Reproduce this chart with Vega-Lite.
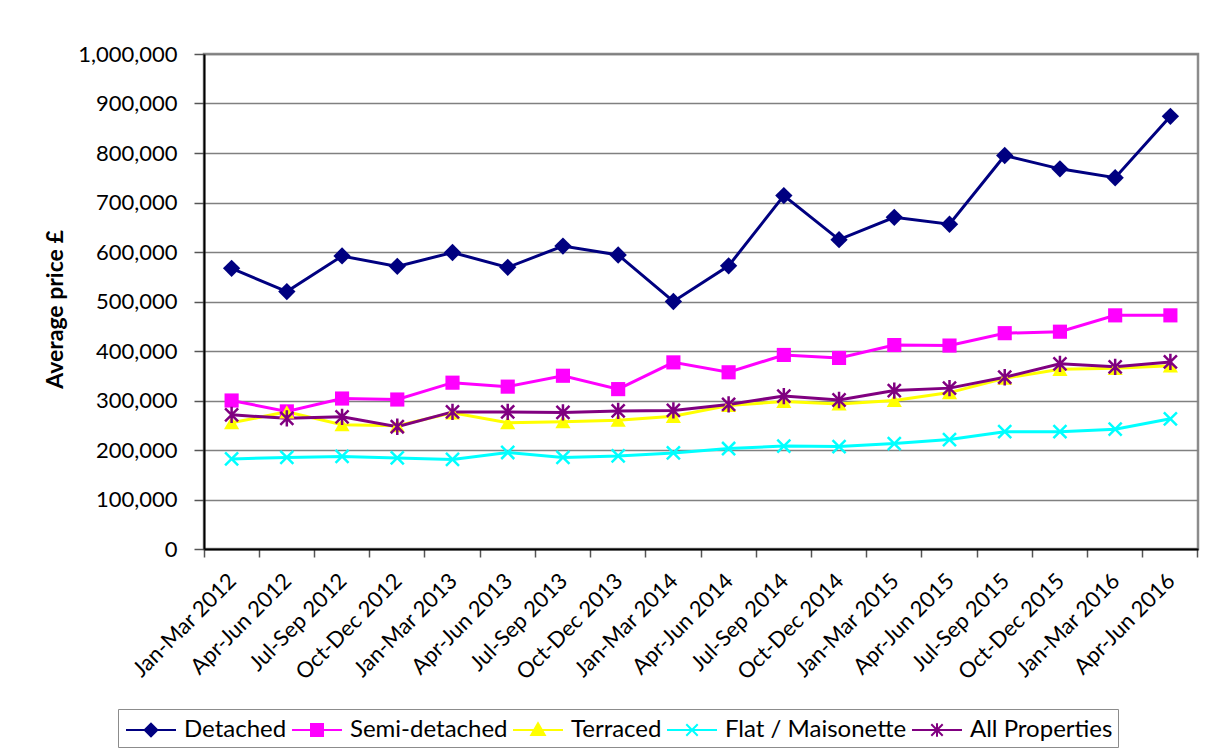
{
  "$schema": "https://vega.github.io/schema/vega-lite/v6.json",
  "width": 994,
  "height": 495,
  "autosize": {"type": "none"},
  "padding": {"left": 204, "top": 54, "right": 12, "bottom": 207},
  "background": "white",
  "config": {
    "font": "Lato",
    "view": {"stroke": "#8c8c8c", "strokeWidth": 2.5},
    "axis": {"labelFont": "Lato", "labelFontSize": 22, "labelColor": "black", "titleFont": "Lato", "titleColor": "black"}
  },
  "datasets": {
    "prices": [
      {"q": "Jan-Mar 2012", "s": "Detached", "v": 567000},
      {"q": "Apr-Jun 2012", "s": "Detached", "v": 520000},
      {"q": "Jul-Sep 2012", "s": "Detached", "v": 592000},
      {"q": "Oct-Dec 2012", "s": "Detached", "v": 571000},
      {"q": "Jan-Mar 2013", "s": "Detached", "v": 599000},
      {"q": "Apr-Jun 2013", "s": "Detached", "v": 569000},
      {"q": "Jul-Sep 2013", "s": "Detached", "v": 612000},
      {"q": "Oct-Dec 2013", "s": "Detached", "v": 594000},
      {"q": "Jan-Mar 2014", "s": "Detached", "v": 500000},
      {"q": "Apr-Jun 2014", "s": "Detached", "v": 572000},
      {"q": "Jul-Sep 2014", "s": "Detached", "v": 714000},
      {"q": "Oct-Dec 2014", "s": "Detached", "v": 625000},
      {"q": "Jan-Mar 2015", "s": "Detached", "v": 670000},
      {"q": "Apr-Jun 2015", "s": "Detached", "v": 656000},
      {"q": "Jul-Sep 2015", "s": "Detached", "v": 795000},
      {"q": "Oct-Dec 2015", "s": "Detached", "v": 768000},
      {"q": "Jan-Mar 2016", "s": "Detached", "v": 750000},
      {"q": "Apr-Jun 2016", "s": "Detached", "v": 874000},
      {"q": "Jan-Mar 2012", "s": "Semi-detached", "v": 300000},
      {"q": "Apr-Jun 2012", "s": "Semi-detached", "v": 278000},
      {"q": "Jul-Sep 2012", "s": "Semi-detached", "v": 304000},
      {"q": "Oct-Dec 2012", "s": "Semi-detached", "v": 302000},
      {"q": "Jan-Mar 2013", "s": "Semi-detached", "v": 336000},
      {"q": "Apr-Jun 2013", "s": "Semi-detached", "v": 328000},
      {"q": "Jul-Sep 2013", "s": "Semi-detached", "v": 350000},
      {"q": "Oct-Dec 2013", "s": "Semi-detached", "v": 323000},
      {"q": "Jan-Mar 2014", "s": "Semi-detached", "v": 377000},
      {"q": "Apr-Jun 2014", "s": "Semi-detached", "v": 357000},
      {"q": "Jul-Sep 2014", "s": "Semi-detached", "v": 392000},
      {"q": "Oct-Dec 2014", "s": "Semi-detached", "v": 386000},
      {"q": "Jan-Mar 2015", "s": "Semi-detached", "v": 412000},
      {"q": "Apr-Jun 2015", "s": "Semi-detached", "v": 411000},
      {"q": "Jul-Sep 2015", "s": "Semi-detached", "v": 436000},
      {"q": "Oct-Dec 2015", "s": "Semi-detached", "v": 439000},
      {"q": "Jan-Mar 2016", "s": "Semi-detached", "v": 472000},
      {"q": "Apr-Jun 2016", "s": "Semi-detached", "v": 472000},
      {"q": "Jan-Mar 2012", "s": "Terraced", "v": 255000},
      {"q": "Apr-Jun 2012", "s": "Terraced", "v": 277000},
      {"q": "Jul-Sep 2012", "s": "Terraced", "v": 251000},
      {"q": "Oct-Dec 2012", "s": "Terraced", "v": 249000},
      {"q": "Jan-Mar 2013", "s": "Terraced", "v": 275000},
      {"q": "Apr-Jun 2013", "s": "Terraced", "v": 255000},
      {"q": "Jul-Sep 2013", "s": "Terraced", "v": 257000},
      {"q": "Oct-Dec 2013", "s": "Terraced", "v": 260000},
      {"q": "Jan-Mar 2014", "s": "Terraced", "v": 268000},
      {"q": "Apr-Jun 2014", "s": "Terraced", "v": 290000},
      {"q": "Jul-Sep 2014", "s": "Terraced", "v": 298000},
      {"q": "Oct-Dec 2014", "s": "Terraced", "v": 293000},
      {"q": "Jan-Mar 2015", "s": "Terraced", "v": 300000},
      {"q": "Apr-Jun 2015", "s": "Terraced", "v": 316000},
      {"q": "Jul-Sep 2015", "s": "Terraced", "v": 345000},
      {"q": "Oct-Dec 2015", "s": "Terraced", "v": 363000},
      {"q": "Jan-Mar 2016", "s": "Terraced", "v": 365000},
      {"q": "Apr-Jun 2016", "s": "Terraced", "v": 370000},
      {"q": "Jan-Mar 2012", "s": "Flat / Maisonette", "v": 182000},
      {"q": "Apr-Jun 2012", "s": "Flat / Maisonette", "v": 185000},
      {"q": "Jul-Sep 2012", "s": "Flat / Maisonette", "v": 187000},
      {"q": "Oct-Dec 2012", "s": "Flat / Maisonette", "v": 184000},
      {"q": "Jan-Mar 2013", "s": "Flat / Maisonette", "v": 181000},
      {"q": "Apr-Jun 2013", "s": "Flat / Maisonette", "v": 195000},
      {"q": "Jul-Sep 2013", "s": "Flat / Maisonette", "v": 185000},
      {"q": "Oct-Dec 2013", "s": "Flat / Maisonette", "v": 188000},
      {"q": "Jan-Mar 2014", "s": "Flat / Maisonette", "v": 194000},
      {"q": "Apr-Jun 2014", "s": "Flat / Maisonette", "v": 203000},
      {"q": "Jul-Sep 2014", "s": "Flat / Maisonette", "v": 208000},
      {"q": "Oct-Dec 2014", "s": "Flat / Maisonette", "v": 207000},
      {"q": "Jan-Mar 2015", "s": "Flat / Maisonette", "v": 213000},
      {"q": "Apr-Jun 2015", "s": "Flat / Maisonette", "v": 221000},
      {"q": "Jul-Sep 2015", "s": "Flat / Maisonette", "v": 237000},
      {"q": "Oct-Dec 2015", "s": "Flat / Maisonette", "v": 237000},
      {"q": "Jan-Mar 2016", "s": "Flat / Maisonette", "v": 242000},
      {"q": "Apr-Jun 2016", "s": "Flat / Maisonette", "v": 263000},
      {"q": "Jan-Mar 2012", "s": "All Properties", "v": 271000},
      {"q": "Apr-Jun 2012", "s": "All Properties", "v": 264000},
      {"q": "Jul-Sep 2012", "s": "All Properties", "v": 267000},
      {"q": "Oct-Dec 2012", "s": "All Properties", "v": 247000},
      {"q": "Jan-Mar 2013", "s": "All Properties", "v": 277000},
      {"q": "Apr-Jun 2013", "s": "All Properties", "v": 277000},
      {"q": "Jul-Sep 2013", "s": "All Properties", "v": 276000},
      {"q": "Oct-Dec 2013", "s": "All Properties", "v": 279000},
      {"q": "Jan-Mar 2014", "s": "All Properties", "v": 280000},
      {"q": "Apr-Jun 2014", "s": "All Properties", "v": 292000},
      {"q": "Jul-Sep 2014", "s": "All Properties", "v": 309000},
      {"q": "Oct-Dec 2014", "s": "All Properties", "v": 301000},
      {"q": "Jan-Mar 2015", "s": "All Properties", "v": 320000},
      {"q": "Apr-Jun 2015", "s": "All Properties", "v": 325000},
      {"q": "Jul-Sep 2015", "s": "All Properties", "v": 347000},
      {"q": "Oct-Dec 2015", "s": "All Properties", "v": 374000},
      {"q": "Jan-Mar 2016", "s": "All Properties", "v": 368000},
      {"q": "Apr-Jun 2016", "s": "All Properties", "v": 378000}
    ]
  },
  "data": {"name": "prices"},
  "encoding": {
    "x": {
      "field": "q", "type": "ordinal", "sort": null,
      "scale": {"type": "band", "paddingInner": 0, "paddingOuter": 0},
      "axis": {
        "title": null, "labelAngle": -45, "labelAlign": "right", "labelBaseline": "middle",
        "bandPosition": 1, "tickExtra": true, "tickSize": 8, "tickColor": "#555555", "tickWidth": 1.5,
        "labelPadding": 20, "labelOffset": 1, "domainColor": "black", "domainWidth": 2, "grid": false
      }
    },
    "y": {
      "field": "v", "type": "quantitative",
      "scale": {"domain": [0, 1000000], "nice": false},
      "axis": {
        "title": "Average price £", "titleFontSize": 23, "titleFontWeight": "bold",
        "titleX": -149, "titleY": 255, "titleAngle": -90, "titleBaseline": "middle", "titleAlign": "center",
        "format": ",d", "values": [0, 100000, 200000, 300000, 400000, 500000, 600000, 700000, 800000, 900000, 1000000],
        "tickSize": 10, "labelPadding": 17, "tickColor": "#555555", "tickWidth": 1.5,
        "domainColor": "black", "domainWidth": 2, "gridColor": "#808080", "gridWidth": 1.5
      }
    }
  },
  "layer": [
    {
      "mark": {"type": "line", "strokeWidth": 3},
      "encoding": {
        "color": {
          "field": "s", "type": "nominal",
          "scale": {"domain": ["Detached", "Semi-detached", "Terraced", "Flat / Maisonette", "All Properties"],
                    "range": ["#000080", "#FF00FF", "#FFFF00", "#00FFFF", "#800080"]},
          "legend": null
        }
      }
    },
    {
      "transform": [{"filter": {"field": "s", "equal": "Detached"}}],
      "mark": {"type": "point", "filled": true, "opacity": 1, "size": 300, "strokeWidth": 0, "shape": "diamond", "color": "#000080"}
    },
    {
      "transform": [{"filter": {"field": "s", "equal": "Semi-detached"}}],
      "mark": {"type": "point", "filled": true, "opacity": 1, "size": 200, "strokeWidth": 0, "shape": "square", "color": "#FF00FF"}
    },
    {
      "transform": [{"filter": {"field": "s", "equal": "Terraced"}}],
      "mark": {"type": "point", "filled": true, "opacity": 1, "size": 230, "strokeWidth": 0, "shape": "triangle-up", "color": "#FFFF00"}
    },
    {
      "transform": [{"filter": {"field": "s", "equal": "Flat / Maisonette"}}],
      "mark": {"type": "point", "filled": false, "opacity": 1, "size": 170, "strokeWidth": 2.5, "shape": "M-1,-1L1,1M-1,1L1,-1", "color": "#00FFFF"}
    },
    {
      "transform": [{"filter": {"field": "s", "equal": "All Properties"}}],
      "mark": {"type": "point", "filled": false, "opacity": 1, "size": 170, "strokeWidth": 2.5, "shape": "M-1,-1L1,1M-1,1L1,-1M0,-1.25L0,1.25", "color": "#800080"}
    },
    {
      "mark": {"type": "point", "opacity": 0, "strokeWidth": 2},
      "encoding": {
        "fill": {
          "field": "s", "type": "nominal",
          "scale": {"domain": ["Detached", "Semi-detached", "Terraced", "Flat / Maisonette", "All Properties"],
                    "range": ["#000080", "#FF00FF", "#FFFF00", "#00FFFF", "#800080"]},
          "legend": {
            "title": null, "orient": "none", "legendX": -86, "legendY": 655,
            "direction": "horizontal", "columns": 5,
            "symbolSize": 900, "symbolStrokeWidth": 2, "symbolOpacity": 1, "symbolOffset": 12,
            "labelFontSize": 24, "labelFont": "Lato", "labelColor": "black", "labelLimit": 400,
            "labelOffset": 17, "columnPadding": 0, "padding": 5,
            "strokeColor": "#8c8c8c", "fillColor": "white"
          }
        },
        "stroke": {
          "field": "s", "type": "nominal",
          "scale": {"domain": ["Detached", "Semi-detached", "Terraced", "Flat / Maisonette", "All Properties"],
                    "range": ["#000080", "#FF00FF", "#FFFF00", "#00FFFF", "#800080"]},
          "legend": {
            "title": null, "orient": "none", "legendX": -86, "legendY": 655,
            "direction": "horizontal", "columns": 5,
            "symbolSize": 900, "symbolStrokeWidth": 2, "symbolOpacity": 1, "symbolOffset": 12,
            "labelFontSize": 24, "labelFont": "Lato", "labelColor": "black", "labelLimit": 400,
            "labelOffset": 17, "columnPadding": 0, "padding": 5,
            "strokeColor": "#8c8c8c", "fillColor": "white"
          }
        },
        "shape": {
          "field": "s", "type": "nominal",
          "scale": {"domain": ["Detached", "Semi-detached", "Terraced", "Flat / Maisonette", "All Properties"],
                    "range": [
                      "M-1.667,0L1.667,0M0,-0.42L0.42,0L0,0.42L-0.42,0Z",
                      "M-1.667,0L1.667,0M-0.4,-0.4L0.4,-0.4L0.4,0.4L-0.4,0.4Z",
                      "M-1.667,0L1.667,0M0,-0.45L0.45,0.33L-0.45,0.33Z",
                      "M-1.667,0L1.667,0M-0.38,-0.38L0.38,0.38M-0.38,0.38L0.38,-0.38",
                      "M-1.667,0L1.667,0M-0.38,-0.38L0.38,0.38M-0.38,0.38L0.38,-0.38M0,-0.45L0,0.45"
                    ]},
          "legend": {
            "title": null, "orient": "none", "legendX": -86, "legendY": 655,
            "direction": "horizontal", "columns": 5,
            "symbolSize": 900, "symbolStrokeWidth": 2, "symbolOpacity": 1, "symbolOffset": 12,
            "labelFontSize": 24, "labelFont": "Lato", "labelColor": "black", "labelLimit": 400,
            "labelOffset": 17, "columnPadding": 0, "padding": 5,
            "strokeColor": "#8c8c8c", "fillColor": "white"
          }
        }
      }
    }
  ],
  "resolve": {
    "scale": {"shape": "independent", "fill": "independent", "stroke": "independent"},
    "legend": {"shape": "independent", "fill": "independent", "stroke": "independent"}
  }
}
